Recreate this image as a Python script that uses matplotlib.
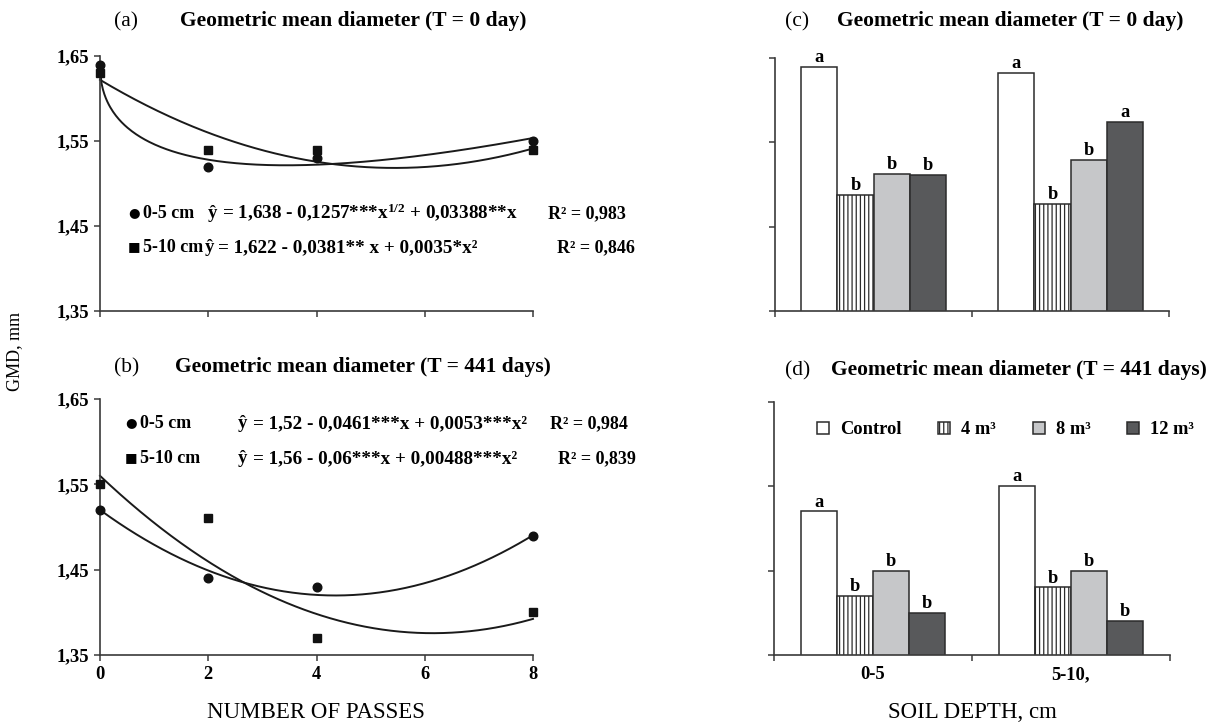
import numpy as np
import matplotlib
matplotlib.use("Agg")
import matplotlib.pyplot as plt

plt.rcParams['font.family'] = ['Liberation Serif', 'DejaVu Sans']
plt.rcParams['mathtext.fontset'] = 'custom'
plt.rcParams['mathtext.rm'] = 'Liberation Serif:bold'
plt.rcParams['mathtext.it'] = 'Liberation Serif:bold'
plt.rcParams['mathtext.bf'] = 'Liberation Serif:bold'
plt.rcParams['hatch.linewidth'] = 0.9

# ---------------- data ----------------
passes = [0, 2, 4, 8]
gmd_t0_0_5 = [1.64, 1.52, 1.53, 1.55]
gmd_t0_5_10 = [1.63, 1.54, 1.54, 1.54]
gmd_t441_0_5 = [1.52, 1.44, 1.43, 1.49]
gmd_t441_5_10 = [1.55, 1.51, 1.37, 1.40]

# regression coefficients printed on the chart
coef_t0_0_5 = [1.638, -0.1257, 0.03388]     # a + b*sqrt(x) + c*x
coef_t0_5_10 = [1.622, -0.0381, 0.0035]     # a + b*x + c*x^2
coef_t441_0_5 = [1.52, -0.0461, 0.0053]
coef_t441_5_10 = [1.56, -0.06, 0.00488]

depths = ['0-5', '5-10,']
treatments = ['Control', '4 m³', '8 m³', '12 m³']
bars_t0 = {
    'Control': [1.639, 1.632],
    '4 m³': [1.488, 1.477],
    '8 m³': [1.513, 1.529],
    '12 m³': [1.511, 1.574],
}
letters_t0 = {
    'Control': ['a', 'a'],
    '4 m³': ['b', 'b'],
    '8 m³': ['b', 'b'],
    '12 m³': ['b', 'a'],
}
bars_t441 = {
    'Control': [1.52, 1.55],
    '4 m³': [1.42, 1.43],
    '8 m³': [1.45, 1.45],
    '12 m³': [1.40, 1.39],
}
letters_t441 = {
    'Control': ['a', 'a'],
    '4 m³': ['b', 'b'],
    '8 m³': ['b', 'b'],
    '12 m³': ['b', 'b'],
}
yticks = [1.35, 1.45, 1.55, 1.65]
ytick_labels = ['1,35', '1,45', '1,55', '1,65']
xticks = [0, 2, 4, 6, 8]

# ---------------- styling ----------------
W, H = 1210, 728
fig = plt.figure(figsize=(W / 100, H / 100), dpi=100)
fig.patch.set_facecolor('white')

def fx(x):
    return x / W

def fy(y):
    return 1 - y / H

AX_COL = '#3a3a3a'
TICK_FS = 13.3
TITLE_FS = 15.5

def style_axes(ax):
    for s in ['top', 'right']:
        ax.spines[s].set_visible(False)
    for s in ['left', 'bottom']:
        ax.spines[s].set_color(AX_COL)
        ax.spines[s].set_linewidth(1.2)
    ax.tick_params(which='both', direction='out', length=4, width=1.1, color=AX_COL)
    ax.set_ylim(1.35, 1.65)
    ax.set_yticks(yticks)

ax_a = fig.add_axes([fx(100), fy(311), (533 - 100) / W, (311 - 56) / H])
ax_b = fig.add_axes([fx(100), fy(655), (533 - 100) / W, (655 - 399) / H])
ax_c = fig.add_axes([fx(775), fy(311), (1169 - 775) / W, (311 - 58) / H])
ax_d = fig.add_axes([fx(774), fy(655), (1170 - 774) / W, (655 - 401.7) / H])

xx = np.linspace(0, 8, 300)

def line_plot(ax, y05, y510, f05, f510, show_xlabels):
    style_axes(ax)
    ax.set_xlim(0, 8)
    ax.set_xticks(xticks)
    ax.plot(xx, f05, color='#1a1a1a', lw=1.4, clip_on=False, zorder=2)
    ax.plot(xx, f510, color='#1a1a1a', lw=1.4, clip_on=False, zorder=2)
    ax.plot(passes, y05, 'o', color='#111111', ms=6.2, clip_on=False, zorder=3)
    ax.plot(passes, y510, 's', color='#111111', ms=6.4, clip_on=False, zorder=3)
    ax.set_yticklabels(ytick_labels, fontsize=TICK_FS, fontweight='bold')
    if show_xlabels:
        ax.set_xticklabels([str(v) for v in xticks], fontsize=TICK_FS, fontweight='bold')
    else:
        ax.set_xticklabels([])
    ax.tick_params(axis='y', pad=4)
    ax.tick_params(axis='x', pad=4)

c = coef_t0_0_5
f_a05 = c[0] + c[1] * np.sqrt(xx) + c[2] * xx
c = coef_t0_5_10
f_a510 = c[0] + c[1] * xx + c[2] * xx ** 2
c = coef_t441_0_5
f_b05 = c[0] + c[1] * xx + c[2] * xx ** 2
c = coef_t441_5_10
f_b510 = c[0] + c[1] * xx + c[2] * xx ** 2

line_plot(ax_a, gmd_t0_0_5, gmd_t0_5_10, f_a05, f_a510, False)
line_plot(ax_b, gmd_t441_0_5, gmd_t441_5_10, f_b05, f_b510, True)

# ---------------- bars ----------------
colors = {'Control': '#ffffff', '4 m³': '#ffffff', '8 m³': '#c6c7c9', '12 m³': '#58595b'}
hatches = {'Control': None, '4 m³': '||||', '8 m³': None, '12 m³': None}
bw = 0.183

def bar_plot(ax, data, letters, show_labels):
    style_axes(ax)
    ax.set_xlim(-0.5, 1.5)
    ax.set_yticklabels([])
    xpos = np.arange(len(depths))
    handles = []
    for i, t in enumerate(treatments):
        off = (i - 1.5) * bw
        bc = ax.bar(xpos + off, data[t], width=bw, color=colors[t], hatch=hatches[t],
                    edgecolor='#2b2b2b', linewidth=1.1, zorder=2)
        handles.append(bc)
        for rect, lab, v in zip(bc, letters[t], data[t]):
            ax.annotate(lab, (rect.get_x() + rect.get_width() / 2, v), xytext=(0, 3.5),
                        textcoords='offset points', ha='center', va='baseline',
                        fontsize=TICK_FS, fontweight='bold')
    ax.set_xticks(xpos)
    if show_labels:
        ax.set_xticklabels(depths, fontsize=TICK_FS, fontweight='bold')
    else:
        ax.set_xticklabels([])
    ax.tick_params(axis='x', which='major', length=0, pad=8)
    ax.set_xticks([-0.5, 0.5, 1.5], minor=True)
    ax.tick_params(axis='x', which='minor', length=4)
    return handles

bar_plot(ax_c, bars_t0, letters_t0, False)
handles = bar_plot(ax_d, bars_t441, letters_t441, True)
ax_d.legend(handles, treatments, ncol=4, loc='center left',
            bbox_to_anchor=(fx(817), fy(430)), bbox_transform=fig.transFigure,
            frameon=False, handlelength=0.65, handleheight=0.65, handletextpad=0.6,
            columnspacing=1.98, borderpad=0, borderaxespad=0,
            prop=dict(weight='bold', size=13.3))

# ---------------- titles ----------------
def title(xl, xt, yb, letter, text):
    fig.text(fx(xl), fy(yb), letter, fontsize=TITLE_FS, va='baseline', ha='left')
    fig.text(fx(xt), fy(yb), text, fontsize=TITLE_FS, fontweight='bold', va='baseline', ha='left')

title(114, 180, 26, '(a)', 'Geometric mean diameter (T = 0 day)')
title(114, 175, 372, '(b)', 'Geometric mean diameter (T = 441 days)')
title(785, 837, 26, '(c)', 'Geometric mean diameter (T = 0 day)')
title(785, 831, 375, '(d)', 'Geometric mean diameter (T = 441 days)')

# ---------------- equations ----------------
def eq_line(yb, mk, mx, lab, lx, hx, ex, eq, rx, r2):
    fig.text(fx(mx), fy(yb - 5.5), mk, fontsize=9.5, ha='center', va='center',
             family=['DejaVu Sans'])
    fig.text(fx(lx), fy(yb), lab, fontsize=13, fontweight='bold', ha='left', va='baseline')
    fig.text(fx(hx), fy(yb), 'ŷ', fontsize=13.5, fontweight='bold', ha='center', va='baseline')
    fig.text(fx(ex), fy(yb), eq, fontsize=13.8, fontweight='bold', ha='left', va='baseline')
    fig.text(fx(rx), fy(yb), r2, fontsize=13, fontweight='bold', ha='left', va='baseline')

eq_line(218, '●', 134, '0-5 cm', 143, 212, 222,
        r'= 1,638 - 0,1257***$\mathrm{x}^{1/2}$ + 0,03388**x', 548, 'R² = 0,983')
eq_line(252, '■', 134, '5-10 cm', 143, 209, 218,
        '= 1,622 - 0,0381** x + 0,0035*x²', 557, 'R² = 0,846')
eq_line(428, '●', 131, '0-5 cm', 140, 242, 253,
        '= 1,52 - 0,0461***x + 0,0053***x²', 550, 'R² = 0,984')
eq_line(463, '■', 131, '5-10 cm', 140, 242, 253,
        '= 1,56 - 0,06***x + 0,00488***x²', 558, 'R² = 0,839')

# ---------------- axis titles ----------------
fig.text(fx(15), fy(351), 'GMD, mm', rotation=90, fontsize=13, ha='center', va='center')
fig.text(fx(316), fy(712), 'NUMBER OF PASSES', fontsize=16.5, ha='center', va='center')
fig.text(fx(972), fy(712), 'SOIL DEPTH, cm', fontsize=16.5, ha='center', va='center')

fig.savefig('out.png', dpi=100, facecolor='white')
